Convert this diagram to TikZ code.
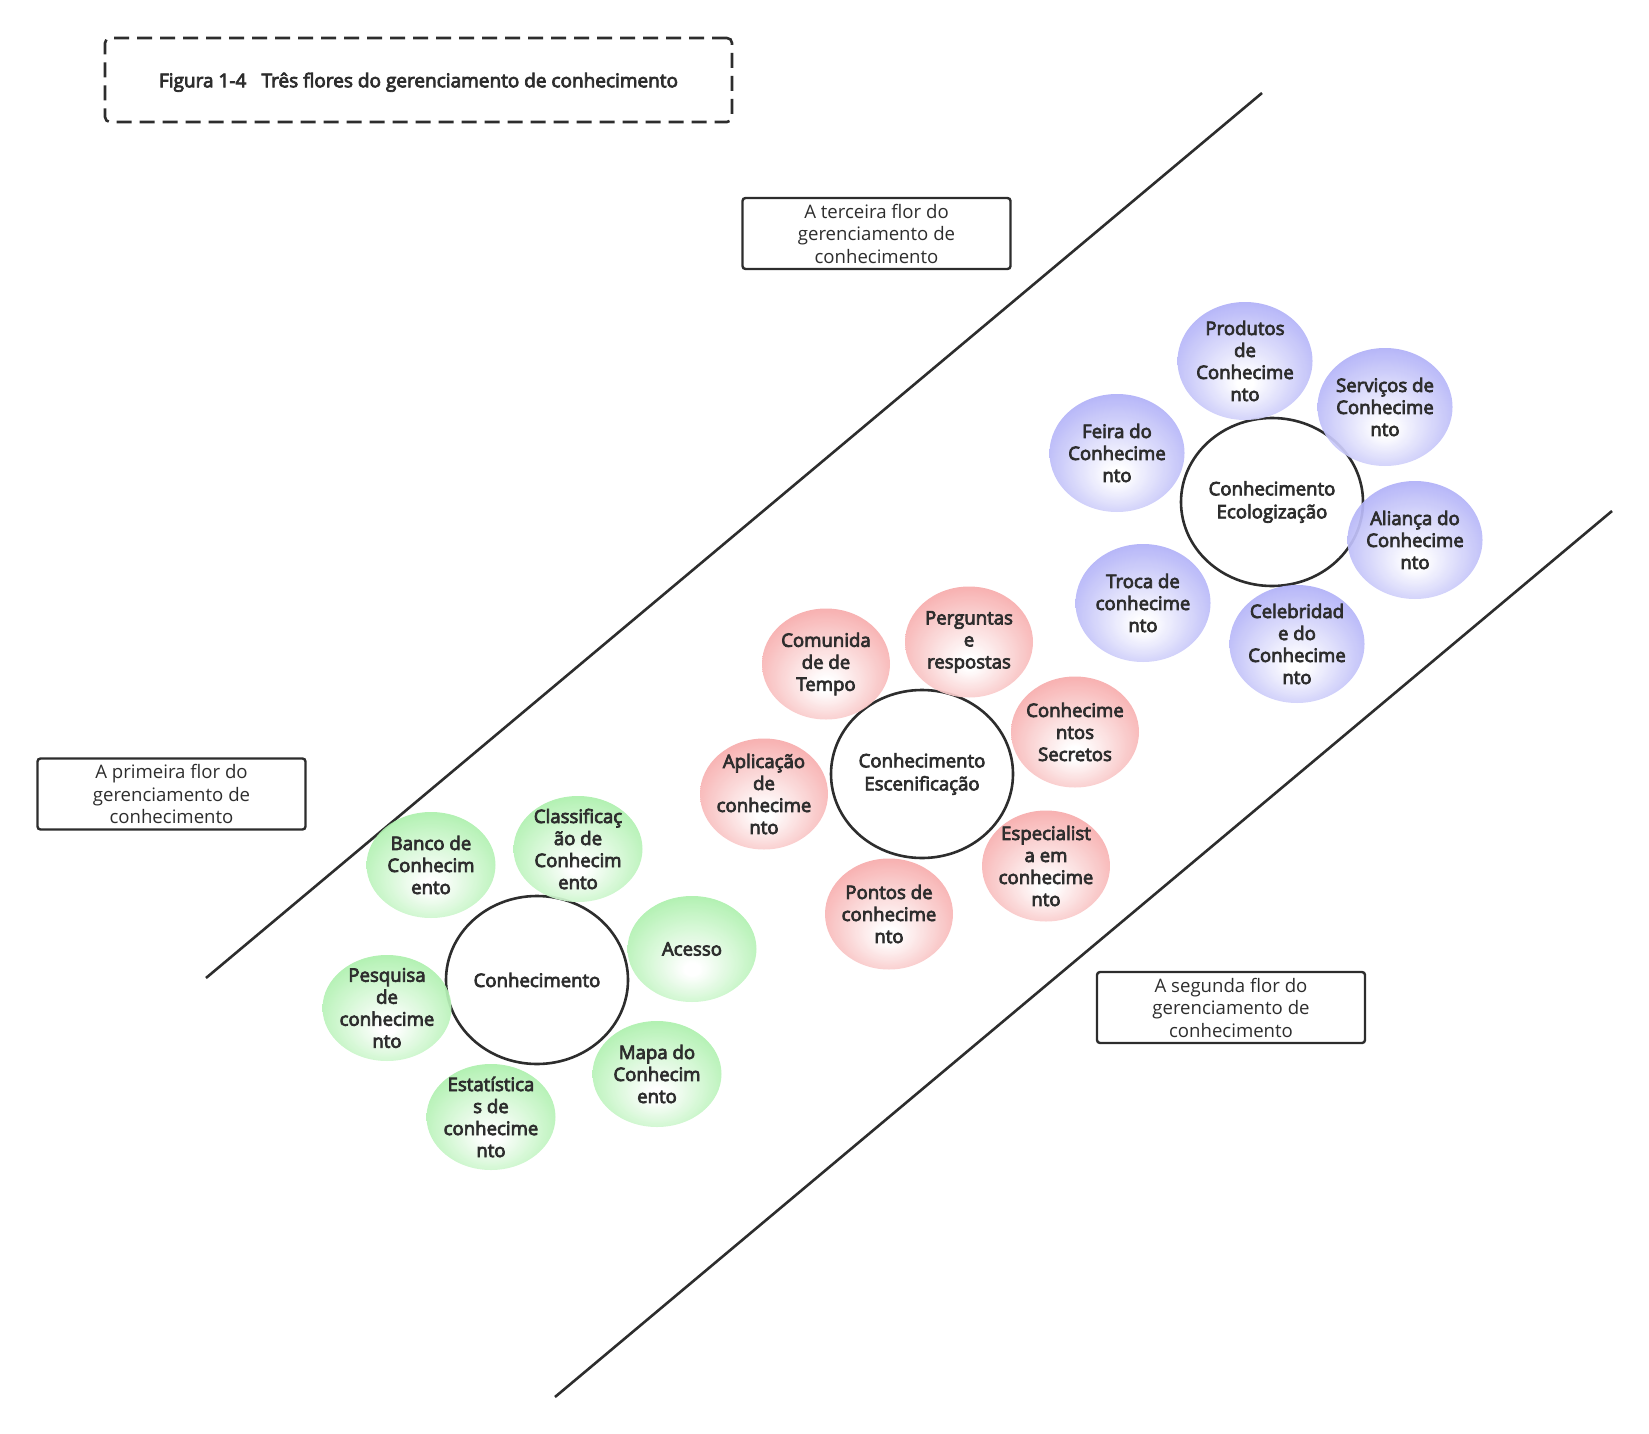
\documentclass[tikz,border=0pt]{standalone}
\usepackage{fontspec}
\setmainfont{Open Sans}[AutoFakeBold=4]
\usetikzlibrary{shapes.geometric}
\definecolor{inkc}{RGB}{45,45,45}
\definecolor{txtc}{RGB}{45,45,45}
\definecolor{gEdge}{RGB}{150,236,150}
\definecolor{rEdge}{RGB}{244,148,148}
\definecolor{bEdge}{RGB}{155,155,245}
\pgfdeclareradialshading{gshade}{\pgfpoint{0bp}{-10bp}}{color(0bp)=(white); color(3bp)=(white); color(36bp)=(gEdge); color(50bp)=(gEdge)}
\pgfdeclareradialshading{rshade}{\pgfpoint{0bp}{-10bp}}{color(0bp)=(white); color(3bp)=(white); color(36bp)=(rEdge); color(50bp)=(rEdge)}
\pgfdeclareradialshading{bshade}{\pgfpoint{0bp}{-10bp}}{color(0bp)=(white); color(3bp)=(white); color(36bp)=(bEdge); color(50bp)=(bEdge)}
\begin{document}
\begin{tikzpicture}[x=1pt,y=-1pt,
  every node/.style={text=txtc},
  petaltext/.style={inner sep=0pt, align=center, text=txtc, font=\fontsize{18.6}{22}\selectfont\bfseries},
  petalbase/.style={ellipse, inner sep=0pt, fill opacity=0.92},
  gpetal/.style={petalbase, minimum width=129pt, minimum height=106pt, shading=gshade},
  rpetal/.style={petalbase, minimum width=128pt, minimum height=111pt, shading=rshade},
  bpetal/.style={petalbase, minimum width=135pt, minimum height=118pt, shading=bshade},
  hub/.style={ellipse, draw=inkc, line width=2.6pt, fill=white, minimum width=182pt, minimum height=168pt,
    inner sep=0pt, align=center, font=\fontsize{18.6}{23}\selectfont\bfseries},
  labelbox/.style={draw=inkc, line width=2.4pt, rounded corners=3pt, minimum width=268pt, minimum height=71pt,
    inner sep=0pt, align=center, font=\fontsize{18.6}{22.5}\selectfont},
  divider/.style={draw=inkc, line width=2.6pt}
]
\useasboundingbox (0,0) rectangle (1649,1434);

% title
\node[draw=inkc, line width=2.6pt, dashed, dash pattern=on 15pt off 8pt, rounded corners=5pt,
  minimum width=627pt, minimum height=84pt, inner sep=0pt, text depth=0pt,
  font=\fontsize{19}{22}\selectfont\bfseries] (title) at (418.5,80) {Figura 1-4\hspace{0.8em}Três flores do gerenciamento de conhecimento};

% dividers
\coordinate (l1a) at (206,978);
\coordinate (l1b) at (1262,93);
\coordinate (l2a) at (555,1397);
\coordinate (l2b) at (1612,511);
\draw[divider] (l1a) -- (l1b);
\draw[divider] (l2a) -- (l2b);

% label boxes
\node[labelbox] (lab3) at (876.5,233.5) {A terceira flor do\\gerenciamento de\\conhecimento};
\node[labelbox] (lab1) at (171.5,794) {A primeira flor do\\gerenciamento de\\conhecimento};
\node[labelbox] (lab2) at (1231,1007.5) {A segunda flor do\\gerenciamento de\\conhecimento};

% hubs
\node[hub] (h1) at (537,980) {Conhecimento};
\node[hub] (h2) at (922,774) {Conhecimento\\Escenificação};
\node[hub] (h3) at (1272,502) {Conhecimento\\Ecologização};

% green petals
\node[gpetal, label={[petaltext]center:Banco de\\Conhecim\\ento}] (g1) at (431,865) {};
\node[gpetal, label={[petaltext]center:Classificaç\\ão de\\Conhecim\\ento}] (g2) at (578,849) {};
\node[gpetal, label={[petaltext]center:Acesso}] (g3) at (692,949) {};
\node[gpetal, label={[petaltext]center:Mapa do\\Conhecim\\ento}] (g4) at (657,1074) {};
\node[gpetal, label={[petaltext]center:Estatística\\s de\\conhecime\\nto}] (g5) at (491,1117) {};
\node[gpetal, label={[petaltext]center:Pesquisa\\de\\conhecime\\nto}] (g6) at (387,1008) {};

% red petals
\node[rpetal, label={[petaltext]center:Comunida\\de de\\Tempo}] (r1) at (826,664) {};
\node[rpetal, label={[petaltext]center:Perguntas\\e\\respostas}] (r2) at (969,642) {};
\node[rpetal, label={[petaltext]center:Conhecime\\ntos\\Secretos}] (r3) at (1075,732) {};
\node[rpetal, label={[petaltext]center:Especialist\\a em\\conhecime\\nto}] (r4) at (1046,866) {};
\node[rpetal, label={[petaltext]center:Pontos de\\conhecime\\nto}] (r5) at (889,914) {};
\node[rpetal, label={[petaltext]center:Aplicação\\de\\conhecime\\nto}] (r6) at (764,794) {};

% blue petals
\node[bpetal, label={[petaltext]center:Produtos\\de\\Conhecime\\nto}] (b1) at (1245,361) {};
\node[bpetal, label={[petaltext]center:Serviços de\\Conhecime\\nto}] (b2) at (1385,407) {};
\node[bpetal, label={[petaltext]center:Feira do\\Conhecime\\nto}] (b3) at (1117,453) {};
\node[bpetal, label={[petaltext]center:Aliança do\\Conhecime\\nto}] (b4) at (1415,540) {};
\node[bpetal, label={[petaltext]center:Troca de\\conhecime\\nto}] (b5) at (1143,603) {};
\node[bpetal, label={[petaltext]center:Celebridad\\e do\\Conhecime\\nto}] (b6) at (1297,644) {};
\end{tikzpicture}
\end{document}
